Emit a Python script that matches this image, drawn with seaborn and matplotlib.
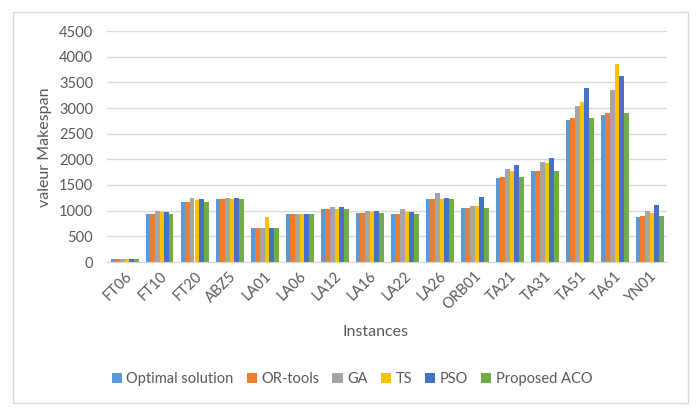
import pandas as pd
import matplotlib
matplotlib.use("Agg")
import matplotlib.pyplot as plt
import seaborn as sns
from matplotlib.patches import Rectangle

# valeurs
instances = ["FT06", "FT10", "FT20", "ABZ5", "LA01", "LA06", "LA12", "LA16",
             "LA22", "LA26", "ORB01", "TA21", "TA31", "TA51", "TA61", "YN01"]
optimal = [55, 930, 1165, 1234, 666, 926, 1039, 945, 927, 1218, 1059, 1642, 1764, 2760, 2868, 884]
or_tools = [55, 930, 1165, 1234, 666, 926, 1039, 945, 927, 1218, 1059, 1660, 1780, 2810, 2905, 905]
ga = [55, 985, 1238, 1255, 666, 926, 1080, 985, 1025, 1335, 1100, 1820, 1955, 3045, 3355, 985]
ts = [55, 965, 1200, 1234, 870, 926, 1039, 965, 965, 1235, 1100, 1780, 1935, 3120, 3860, 945]
pso = [55, 965, 1218, 1255, 666, 926, 1080, 985, 965, 1255, 1275, 1880, 2035, 3395, 3625, 1120]
aco = [55, 930, 1165, 1234, 666, 926, 1039, 945, 927, 1218, 1059, 1660, 1780, 2810, 2905, 905]

series = ["Optimal solution", "OR-tools", "GA", "TS", "PSO", "Proposed ACO"]
colours = ["#5B9BD5", "#ED7D31", "#A5A5A5", "#FFC000", "#4472C4", "#70AD47"]

rows = []
for name, vals in zip(series, [optimal, or_tools, ga, ts, pso, aco]):
    for inst, v in zip(instances, vals):
        rows.append([inst, name, v])
df = pd.DataFrame(rows, columns=["Instance", "Méthode", "Makespan"])

sns.set_style("white")
plt.rcParams["font.family"] = ["Lato", "DejaVu Sans"]
txt = "#595959"

fig = plt.figure(figsize=(7, 4.13), dpi=100)
fig.patches.append(Rectangle((13 / 700, 10 / 413), 675 / 700, 391 / 413,
                             transform=fig.transFigure, fill=False,
                             edgecolor="#D9D9D9", linewidth=1))
ax = fig.add_axes([107 / 700, 151 / 413, 560 / 700, 231 / 413])

sns.barplot(data=df, x="Instance", y="Makespan", hue="Méthode", order=instances,
            hue_order=series, palette=colours, width=0.8, saturation=1,
            edgecolor="none", ax=ax)

ax.set_ylim(0, 4500)
ax.set_xlim(-0.5, len(instances) - 0.5)
ax.set_yticks(range(0, 4501, 500))
ax.yaxis.grid(True, color="#D9D9D9", linewidth=1)
ax.set_axisbelow(True)
for s in ["top", "right", "left"]:
    ax.spines[s].set_visible(False)
ax.spines["bottom"].set_color("#D9D9D9")
ax.tick_params(axis="both", length=0, colors=txt, labelsize=10.5)
ax.tick_params(axis="y", pad=10)
ax.tick_params(axis="x", pad=5)
plt.setp(ax.get_xticklabels(), rotation=45, ha="right", rotation_mode="anchor")

ax.set_xlabel("")
ax.set_ylabel("")
fig.text(375 / 700, 1 - 332 / 413, "Instances", color=txt, fontsize=11.5,
         ha="center", va="center")
fig.text(45 / 700, 1 - 147 / 413, "valeur Makespan", color=txt, fontsize=11.5,
         ha="center", va="center", rotation=90)

ax.legend(loc="center", bbox_to_anchor=(0.4375, -0.506), ncol=6, frameon=False,
          fontsize=10.5, handlelength=0.7, handleheight=0.7, handletextpad=0.3,
          columnspacing=0.9, labelcolor=txt)

fig.savefig("out.png", dpi=100)
